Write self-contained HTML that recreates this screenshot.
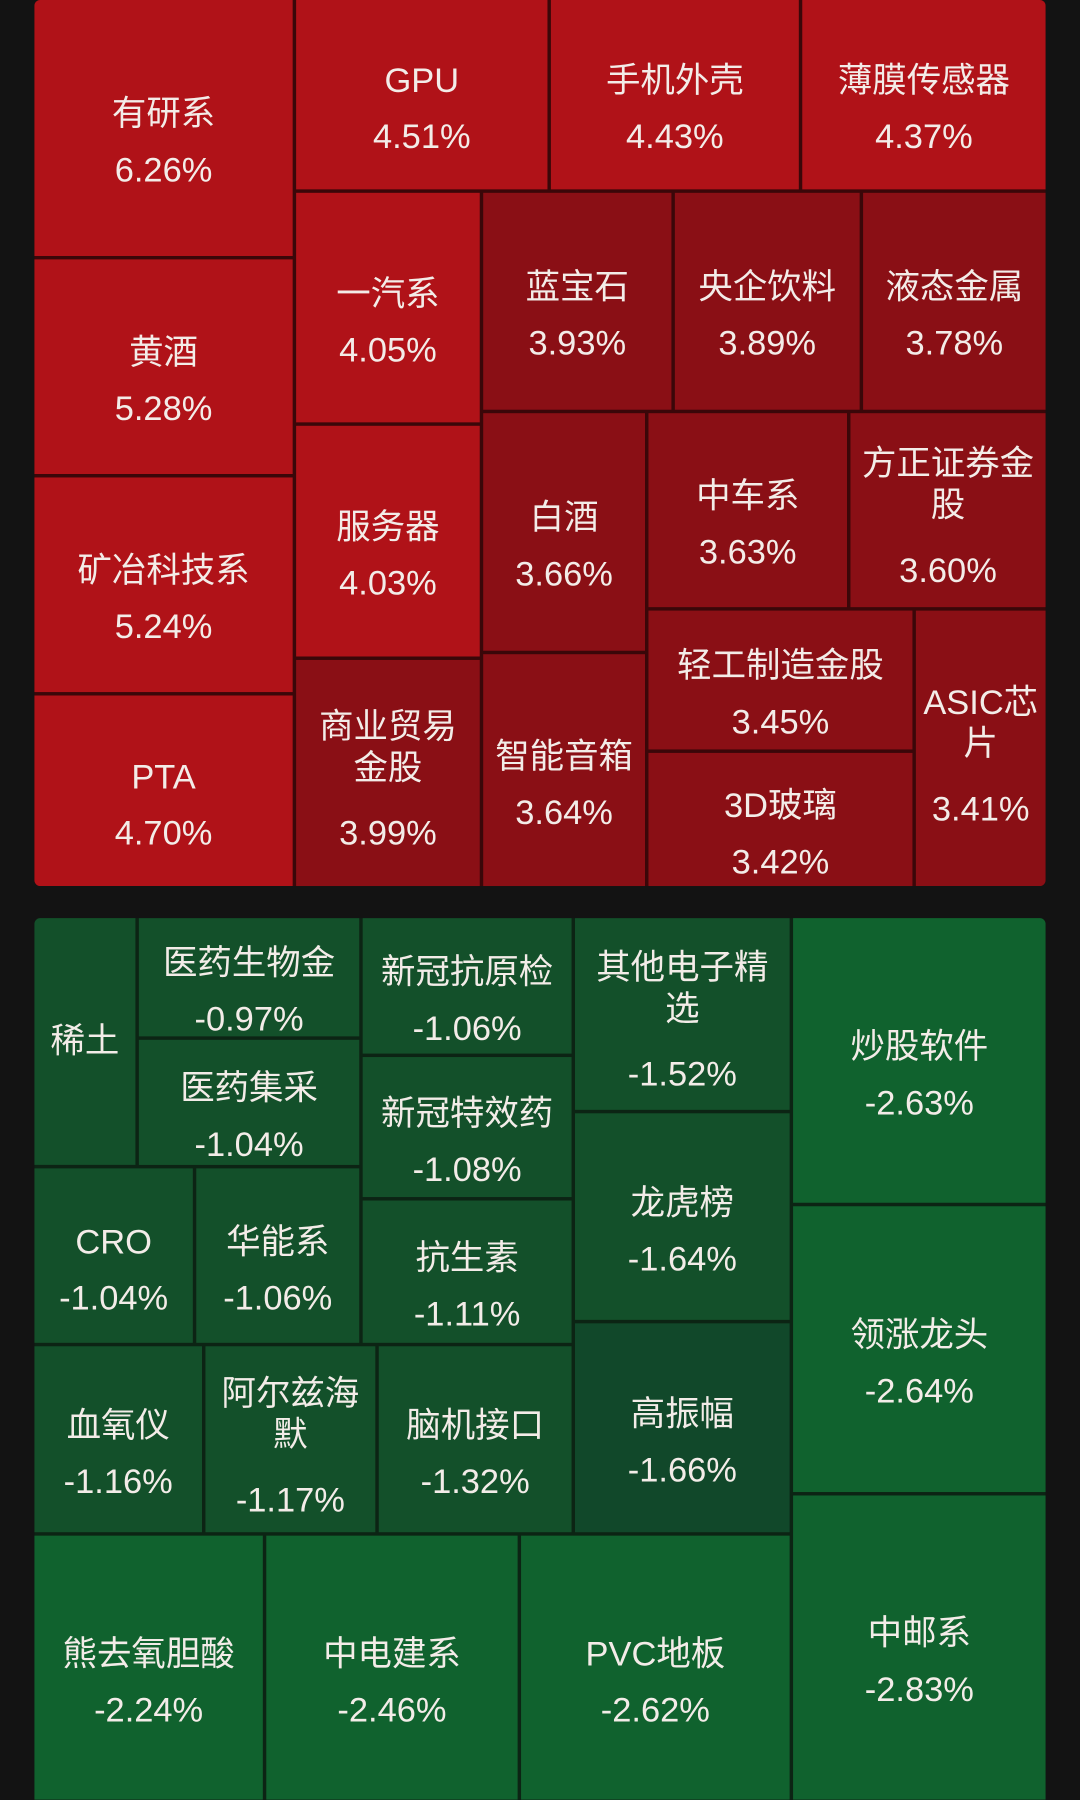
<!DOCTYPE html>
<html><head><meta charset="utf-8"><style>
html,body{margin:0;padding:0;background:#131313;width:1080px;height:1800px;overflow:hidden}
#w{position:absolute;left:0;top:0;width:941px;height:1568px;transform:scale(1.14772);transform-origin:0 0}
.p{position:absolute;left:30px;width:881px;border-radius:5px}
.b{position:absolute;box-sizing:border-box;padding-top:26px;display:flex;flex-direction:column;align-items:center;justify-content:center;color:#f3ece8;font-family:"Liberation Sans","Noto Sans CJK SC",sans-serif;font-size:30px;text-align:center;line-height:36px}
.b.n{padding-top:0}
.b i{font-style:normal;display:block;margin-top:13px}
.b i.t{margin-top:21px}
.r{background:#b01218}.d{background:#8a0f15}
.g{background:#13502a}.h{background:#10622e}.k{background:#11482a}
</style></head><body><div id="w">
<div class="p" style="top:0;height:772px;background:#3a0709"></div>
<div class="p" style="top:800px;height:768px;background:#0c2414"></div>

<div class="b r" style="left:30px;top:0;width:225px;height:223px;border-top-left-radius:5px">有研系<i>6.26%</i></div>
<div class="b r" style="left:30px;top:226px;width:225px;height:187px">黄酒<i>5.28%</i></div>
<div class="b r" style="left:30px;top:416px;width:225px;height:187px">矿冶科技系<i>5.24%</i></div>
<div class="b r" style="left:30px;top:606px;width:225px;height:166px;border-bottom-left-radius:5px">PTA<i>4.70%</i></div>
<div class="b r" style="left:258px;top:0;width:219px;height:165px">GPU<i>4.51%</i></div>
<div class="b r" style="left:480px;top:0;width:216px;height:165px">手机外壳<i>4.43%</i></div>
<div class="b r" style="left:699px;top:0;width:212px;height:165px;border-top-right-radius:5px">薄膜传感器<i>4.37%</i></div>
<div class="b r" style="left:258px;top:168px;width:160px;height:200px">一汽系<i>4.05%</i></div>
<div class="b r" style="left:258px;top:371px;width:160px;height:201px">服务器<i>4.03%</i></div>
<div class="b d" style="left:258px;top:575px;width:160px;height:197px;padding-top:14px">商业贸易<br>金股<i class="t">3.99%</i></div>
<div class="b d" style="left:421px;top:168px;width:164px;height:189px">蓝宝石<i>3.93%</i></div>
<div class="b d" style="left:588px;top:168px;width:161px;height:189px">央企饮料<i>3.89%</i></div>
<div class="b d" style="left:752px;top:168px;width:159px;height:189px">液态金属<i>3.78%</i></div>
<div class="b d" style="left:421px;top:360px;width:141px;height:207px">白酒<i>3.66%</i></div>
<div class="b d" style="left:421px;top:570px;width:141px;height:202px">智能音箱<i>3.64%</i></div>
<div class="b d" style="left:565px;top:360px;width:173px;height:169px">中车系<i>3.63%</i></div>
<div class="b d" style="left:741px;top:360px;width:170px;height:169px;padding-top:14px">方正证券金<br>股<i class="t">3.60%</i></div>
<div class="b d" style="left:565px;top:532px;width:230px;height:121px">轻工制造金股<i>3.45%</i></div>
<div class="b d" style="left:565px;top:656px;width:230px;height:116px">3D玻璃<i>3.42%</i></div>
<div class="b d" style="left:798px;top:532px;width:113px;height:240px;border-bottom-right-radius:5px;padding-top:14px">ASIC芯<br>片<i class="t">3.41%</i></div>

<div class="b g n" style="left:30px;top:800px;width:88px;height:215px;border-top-left-radius:5px">稀土</div>
<div class="b g" style="left:121px;top:800px;width:192px;height:103px">医药生物金<i>-0.97%</i></div>
<div class="b g" style="left:121px;top:906px;width:192px;height:109px">医药集采<i>-1.04%</i></div>
<div class="b g" style="left:316px;top:800px;width:182px;height:118px">新冠抗原检<i>-1.06%</i></div>
<div class="b g" style="left:316px;top:921px;width:182px;height:122px">新冠特效药<i>-1.08%</i></div>
<div class="b g" style="left:316px;top:1046px;width:182px;height:124px">抗生素<i>-1.11%</i></div>
<div class="b g" style="left:501px;top:800px;width:187px;height:167px;padding-top:14px">其他电子精<br>选<i class="t">-1.52%</i></div>
<div class="b g" style="left:501px;top:970px;width:187px;height:180px">龙虎榜<i>-1.64%</i></div>
<div class="b k" style="left:501px;top:1153px;width:187px;height:182px">高振幅<i>-1.66%</i></div>
<div class="b h" style="left:691px;top:800px;width:220px;height:248px;border-top-right-radius:5px">炒股软件<i>-2.63%</i></div>
<div class="b h" style="left:691px;top:1051px;width:220px;height:249px">领涨龙头<i>-2.64%</i></div>
<div class="b h" style="left:691px;top:1303px;width:220px;height:265px">中邮系<i>-2.83%</i></div>
<div class="b g" style="left:30px;top:1018px;width:138px;height:152px">CRO<i>-1.04%</i></div>
<div class="b g" style="left:171px;top:1018px;width:142px;height:152px">华能系<i>-1.06%</i></div>
<div class="b g" style="left:30px;top:1173px;width:146px;height:162px">血氧仪<i>-1.16%</i></div>
<div class="b g" style="left:179px;top:1173px;width:148px;height:162px;padding-top:14px">阿尔兹海<br>默<i class="t">-1.17%</i></div>
<div class="b g" style="left:330px;top:1173px;width:168px;height:162px">脑机接口<i>-1.32%</i></div>
<div class="b h" style="left:30px;top:1338px;width:199px;height:230px">熊去氧胆酸<i>-2.24%</i></div>
<div class="b h" style="left:232px;top:1338px;width:219px;height:230px">中电建系<i>-2.46%</i></div>
<div class="b h" style="left:454px;top:1338px;width:234px;height:230px">PVC地板<i>-2.62%</i></div>
</div></body></html>
